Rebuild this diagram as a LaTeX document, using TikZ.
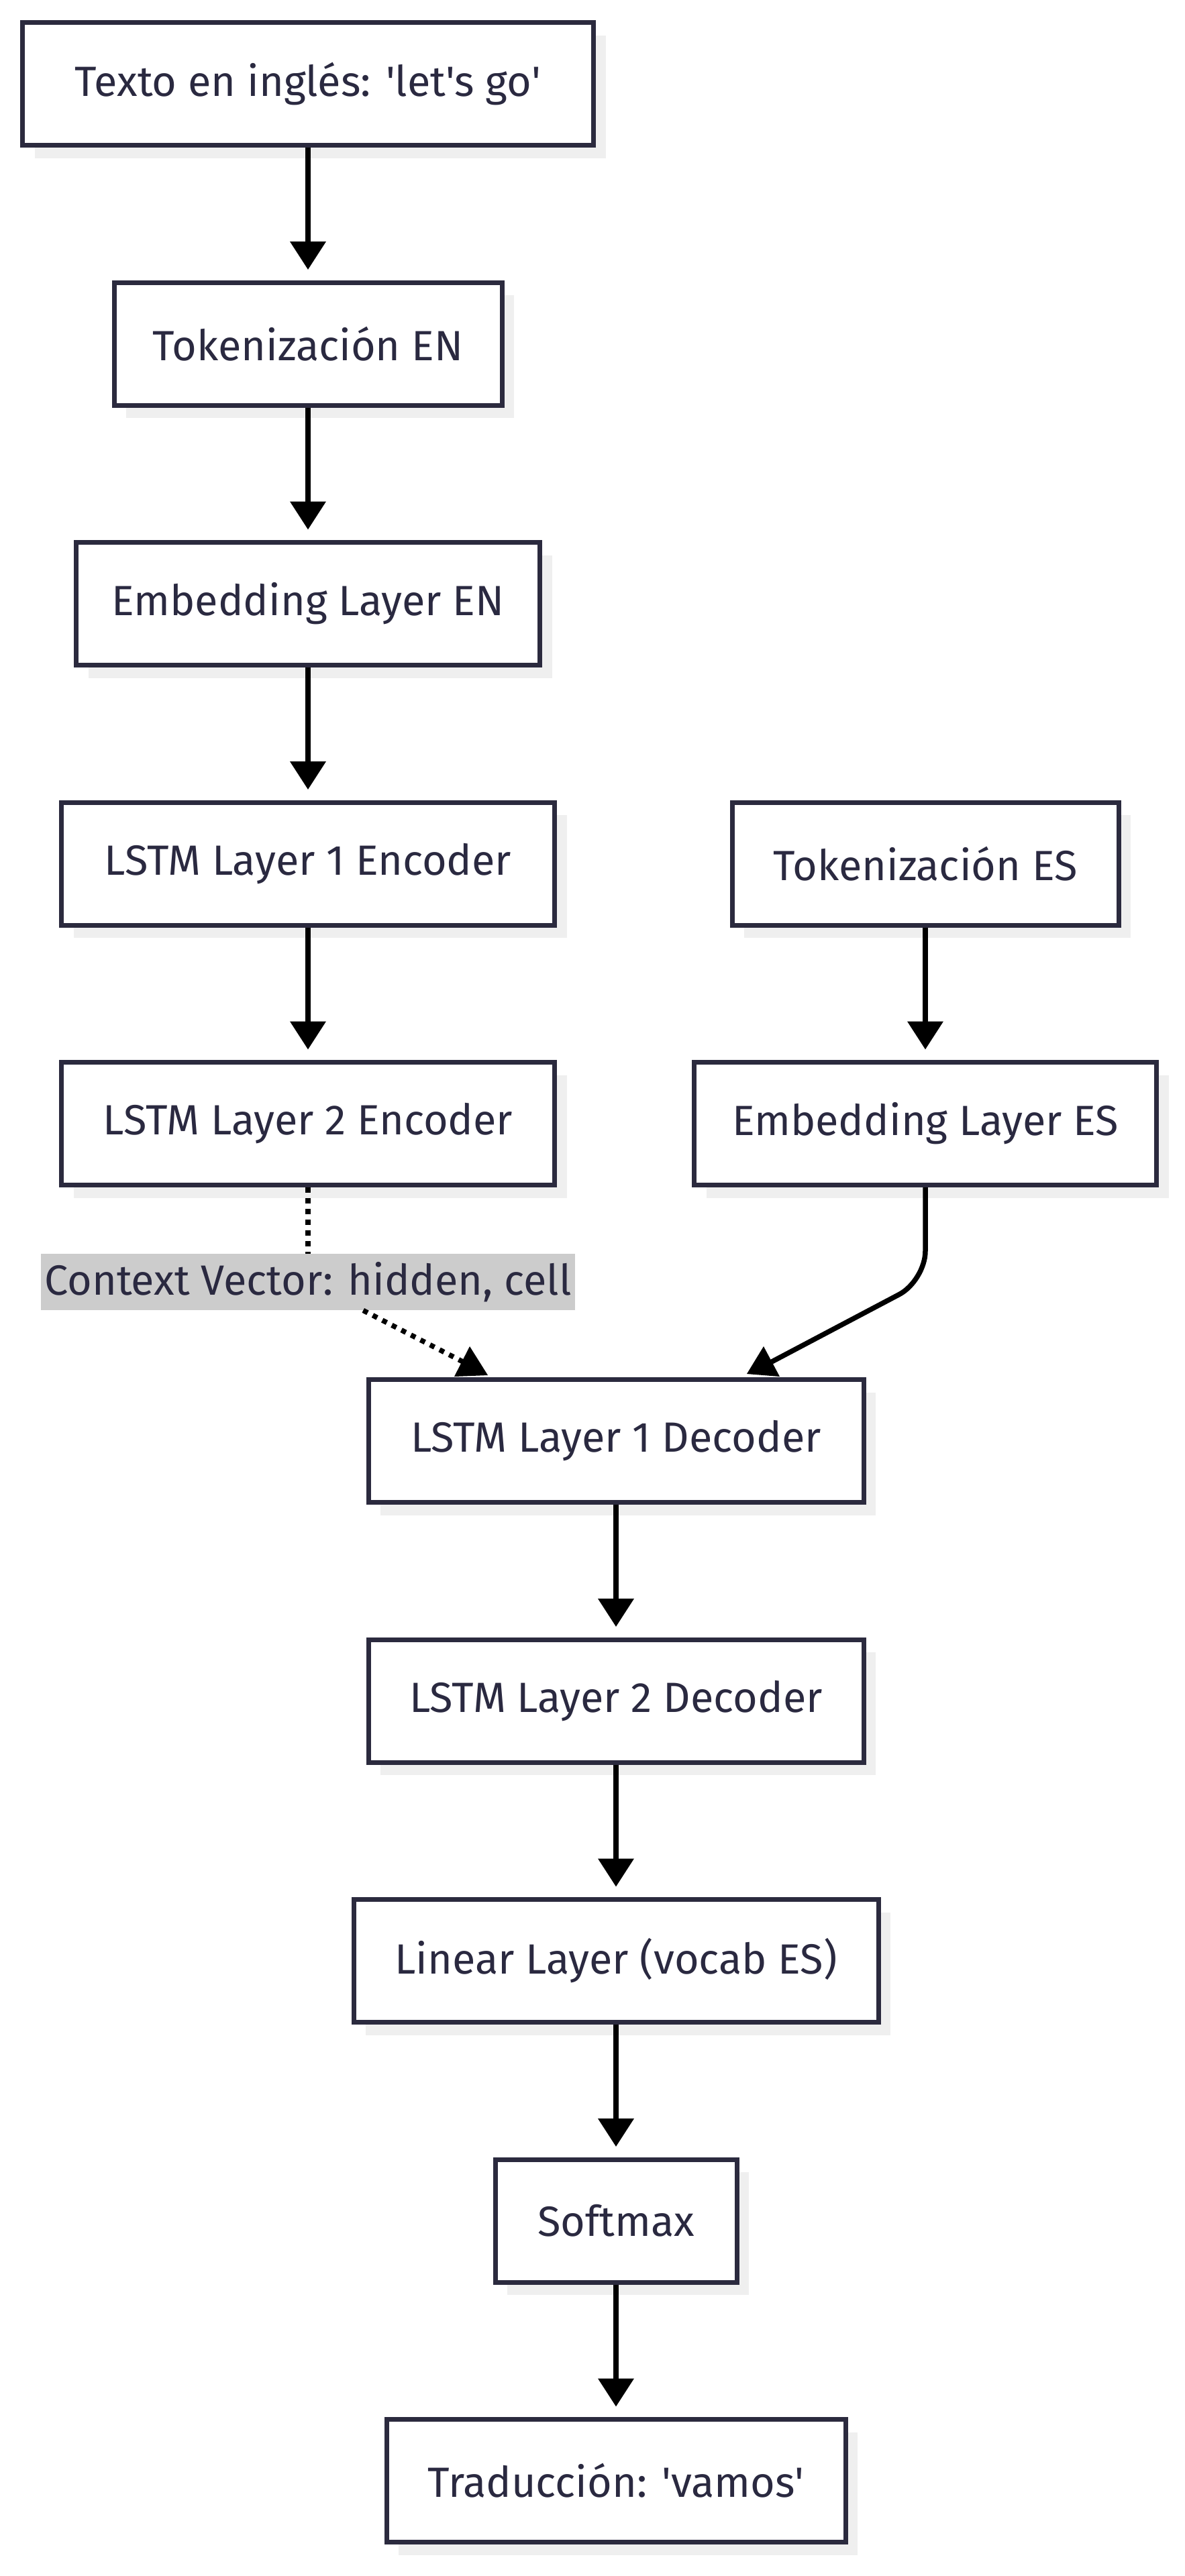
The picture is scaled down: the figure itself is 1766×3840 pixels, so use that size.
\documentclass[tikz,border=0pt]{standalone}
\usepackage{fontspec}
\setmainfont{Fira Sans}
\usetikzlibrary{arrows.meta,shadows}
\definecolor{bord}{RGB}{43,42,62}
\definecolor{txtc}{RGB}{42,41,64}
\definecolor{shad}{RGB}{239,239,239}
\definecolor{lblfill}{RGB}{204,204,204}
\newcommand{\q}{\textquotesingle}
\begin{document}
\begin{tikzpicture}[x=0.5pt,y=-0.5pt,
  nbox/.style={draw=bord,line width=3.5pt,fill=white,minimum height=91.5pt,inner sep=0pt,
    text=txtc,font=\fontsize{31.5}{37}\selectfont,
    general shadow={fill=shad,shadow xshift=9pt,shadow yshift=-9.5pt}},
  lbl/.style={fill=lblfill,minimum width=398pt,minimum height=42pt,inner sep=0pt,
    text=txtc,font=\fontsize{31.5}{37}\selectfont},
  arr/.style={line width=3.75pt,-{Triangle[length=21pt,width=26pt]},shorten >=7.75pt},
  dotl/.style={line width=3.75pt,dash pattern=on 3.75pt off 4.25pt},
  plain/.style={line width=3.75pt},
  headfill/.style={fill=black}]
\useasboundingbox (0,0) rectangle (1766,3840);
\node[nbox,minimum width=425.5pt] (t1) at (459,125) {Texto en inglés: \q let\q s go\q};
\node[nbox,minimum width=289pt] (t2) at (459,512.5) {Tokenización EN};
\node[nbox,minimum width=345.5pt] (t3) at (459,900) {Embedding Layer EN};
\node[nbox,minimum width=367.5pt] (t4) at (459,1287.5) {LSTM Layer 1 Encoder};
\node[nbox,minimum width=288pt] (t5) at (1379,1287.5) {Tokenización ES};
\node[nbox,minimum width=367.5pt] (t6) at (459,1675) {LSTM Layer 2 Encoder};
\node[nbox,minimum width=344.5pt] (t7) at (1379,1675) {Embedding Layer ES};
\node[lbl] (ctx) at (459,1911) {Context Vector: hidden, cell};
\node[nbox,minimum width=369pt] (d1) at (918,2148) {LSTM Layer 1 Decoder};
\node[nbox,minimum width=369pt] (d2) at (918,2535.5) {LSTM Layer 2 Decoder};
\node[nbox,minimum width=391pt] (lin) at (918,2923) {Linear Layer (vocab ES)};
\node[nbox,minimum width=180pt] (sm) at (918,3310.5) {Softmax};
\node[nbox,minimum width=342pt] (tr) at (918,3698) {Traducción: \q vamos\q};
\coordinate (ctxend) at (690,2030);
\coordinate (esbend) at (1379,1909);
\coordinate (esend) at (1150,2030);
\draw[arr] (t1.south) -- (t2.north);
\draw[arr] (t2.south) -- (t3.north);
\draw[arr] (t3.south) -- (t4.north);
\draw[arr] (t4.south) -- (t6.north);
\draw[arr] (t5.south) -- (t7.north);
\draw[dotl] (t6.south) -- (ctx);
\draw[dotl] (ctx) -- (ctxend);
\fill[headfill] (700,2007) -- (677,2052) -- (727,2050) -- cycle;
\draw[plain,rounded corners=22pt] (t7.south) -- (esbend) -- (esend);
\fill[headfill] (1138,2007) -- (1113,2048) -- (1162,2052) -- cycle;
\draw[arr] (d1.south) -- (d2.north);
\draw[arr] (d2.south) -- (lin.north);
\draw[arr] (lin.south) -- (sm.north);
\draw[arr] (sm.south) -- (tr.north);
\end{tikzpicture}
\end{document}
